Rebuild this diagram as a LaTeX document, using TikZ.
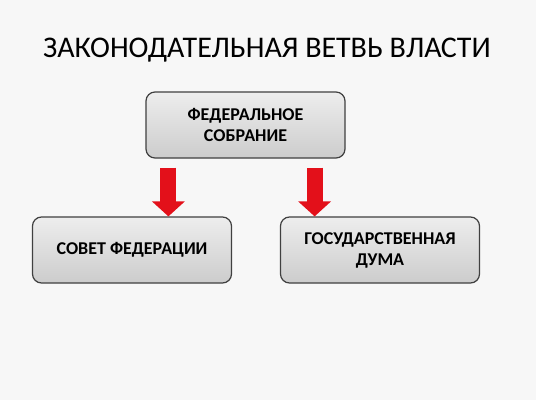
\documentclass[tikz,border=0pt]{standalone}
\usepackage{fontspec}
\setmainfont{Carlito}
\newfontfamily\titlefont{Carlito}
\usetikzlibrary{positioning, calc, arrows.meta}
\definecolor{arrowred}{HTML}{E3101A}
\definecolor{pagebg}{HTML}{F7F7F7}
\tikzset{
	box/.style={draw=black!75, line width=1.2pt, rounded corners=9pt, minimum width=199pt, minimum height=66pt, top color=black!7, bottom color=black!20, align=center, font=\bfseries\fontsize{18}{21}\selectfont},
	heading/.style={font=\titlefont\fontsize{30}{36}\selectfont},
	down/.style={line width=16pt, draw=arrowred, -{Triangle[length=15pt, width=32pt]}},
}
\begin{document}
\begin{tikzpicture}[x=1pt, y=1pt]
	\fill[pagebg] (0,0) rectangle (536,-400);
	\useasboundingbox (0,0) rectangle (536,-400);

	\node (title) [heading] at (267,-50) {ЗАКОНОДАТЕЛЬНАЯ ВЕТВЬ ВЛАСТИ};
	\node (fs) [box] at (245.5,-125) {ФЕДЕРАЛЬНОЕ\\СОБРАНИЕ};
	\node (sf) [box] at ($(fs)+(-113.5,-125)$) {СОВЕТ ФЕДЕРАЦИИ};
	\node (gd) [box] at ($(fs)+(134.5,-125)$) {ГОСУДАРСТВЕННАЯ\\ДУМА};

	% arrows start a little below the upper box
	\coordinate (l) at ($(fs.south west)+(23,-9)$);
	\coordinate (r) at ($(fs.south east)+(-31,-9)$);
	\draw [down] (l) -- (l |- sf.north);
	\draw [down] (r) -- (r |- gd.north);
\end{tikzpicture}
\end{document}
